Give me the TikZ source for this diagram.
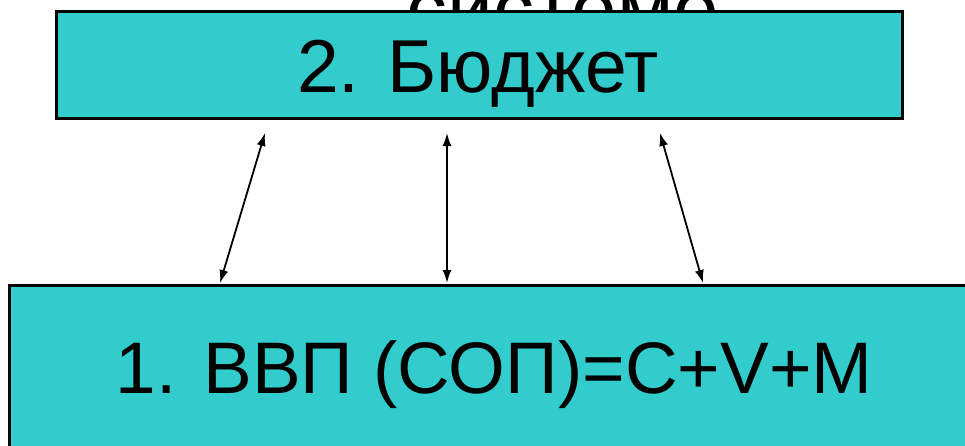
\documentclass[tikz,border=0pt]{standalone}
\usepackage{fontspec}
\setmainfont{Liberation Sans}
\usetikzlibrary{arrows.meta}
\definecolor{boxcyan}{HTML}{33CCCC}
\tikzset{
  box/.style={draw=black, line width=2.5pt, fill=boxcyan},
  link/.style={line width=1.8pt, {Latex[length=13pt,width=9pt]}-{Latex[length=13pt,width=9pt]}},
  big/.style={inner sep=0pt, anchor=base}
}
\begin{document}
\begin{tikzpicture}[x=1pt,y=-1pt]
\useasboundingbox (0,0) rectangle (965,445);
\begin{scope}
\clip (0,0) rectangle (965,445);
% partial title, mostly hidden behind the top box
\node[big, font=\fontsize{82}{90}\selectfont] (title) at (563,37) {системе};
% top box
\node[box, minimum width=846pt, minimum height=107pt, anchor=north west, inner sep=0pt] (budget) at (55,10) {};
\node[big, font=\fontsize{75}{85}\selectfont] (budgettext) at (478,92) {2. Бюджет};
% bottom box
\node[box, minimum width=980pt, minimum height=180pt, anchor=north west, inner sep=0pt] (gdp) at (8,284) {};
\node[big, font=\fontsize{73}{85}\selectfont] (gdptext) at (494,393) {1. ВВП (СОП)=С+V+М};
\end{scope}
% connector end points
\coordinate (a1) at (265,133);
\coordinate (a2) at (220,283);
\coordinate (b1) at (447,133);
\coordinate (b2) at (447,283);
\coordinate (c1) at (660,133);
\coordinate (c2) at (703,283);
\draw[link] (a1) -- (a2);
\draw[link] (b1) -- (b2);
\draw[link] (c1) -- (c2);
\end{tikzpicture}
\end{document}
